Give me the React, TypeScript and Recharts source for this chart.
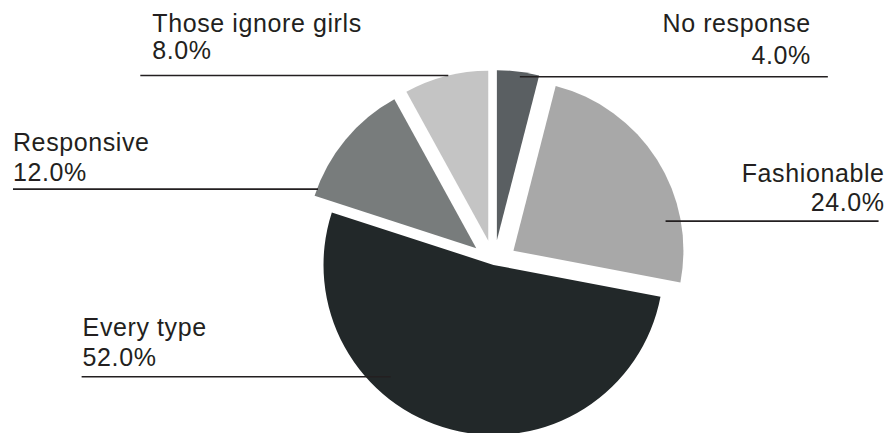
import React from 'react';
import { PieChart, Pie, Cell } from 'recharts';

// slices clockwise from 12 o'clock
const categories = ['No response', 'Fashionable', 'Every type', 'Responsive', 'Those ignore girls'];
const shares = [4, 24, 52, 12, 8];
const colors = ['#5a5f62', '#a8a8a8', '#222829', '#787c7c', '#c4c4c4'];
const explode = [23, 23, 2, 23, 23];

const W = 891;
const H = 433;
const CX = 494;
const CY = 263;
const R = 170;
const FONT = '"Liberation Sans", Arial, Helvetica, sans-serif';

const data = categories.map((name, i) => ({ name, value: shares[i] }));
const total = shares.reduce((a, b) => a + b, 0);

// where each label line leaves its slice (angle clockwise from top, radius from slice tip),
// which way it runs, how long it is, and where the text sits relative to its far end
const labelLayout = [
    { angle: 8, r: 165, side: 1, len: 308, textX: -17, nameDy: -45, valueDy: -13 },
    { angle: 79, r: 155, side: 1, len: 213, textX: 6, nameDy: -39, valueDy: -10 },
    { angle: 222.6, r: 152, side: -1, len: 309, textX: 1, nameDy: -41, valueDy: -11 },
    { angle: 290.5, r: 169, side: -1, len: 305, textX: 0, nameDy: -38, valueDy: -8 },
    { angle: 346.4, r: 170, side: -1, len: 308, textX: 12, nameDy: -43, valueDy: -16 },
];

const centers = (() => {
    let cum = 0;
    return shares.map((v, i) => {
        const mid = ((cum + v / 2) / total) * Math.PI * 2;
        cum += v;
        return { x: CX + explode[i] * Math.sin(mid), y: CY - explode[i] * Math.cos(mid) };
    });
})();

const renderLabel = (props: any, slice: number) => {
    if (props.index !== slice) return null;
    const l = labelLayout[slice];
    const a = (l.angle * Math.PI) / 180;
    const ax = props.cx + l.r * Math.sin(a);
    const ay = props.cy - l.r * Math.cos(a);
    const ex = ax + l.side * l.len;
    const tx = ex + l.textX;
    const anchor = l.side > 0 ? 'end' : 'start';
    return (
        <g>
            <line x1={ax} y1={ay} x2={ex} y2={ay} stroke="#231f20" strokeWidth={1.6} />
            <text x={tx} y={ay + l.nameDy} textAnchor={anchor} fill="#231f20" fontFamily={FONT} fontSize={25} letterSpacing={0.6}>
                {categories[slice]}
            </text>
            <text x={tx} y={ay + l.valueDy} textAnchor={anchor} fill="#231f20" fontFamily={FONT} fontSize={25} letterSpacing={0.6}>
                {((shares[slice] / total) * 100).toFixed(1)}%
            </text>
        </g>
    );
};

const App: React.FC = () => {
    return (
        <div style={{ width: W, height: H, fontFamily: FONT }}>
            <style>{'body{margin:0}'}</style>
            <PieChart width={W} height={H} margin={{ top: 0, right: 0, bottom: 0, left: 0 }}>
                {data.map((_, i) => (
                    <Pie
                        key={i}
                        data={data}
                        dataKey="value"
                        nameKey="name"
                        cx={centers[i].x}
                        cy={centers[i].y}
                        outerRadius={R}
                        startAngle={90}
                        endAngle={-270}
                        stroke="none"
                        isAnimationActive={false}
                        labelLine={false}
                        label={(p: any) => renderLabel(p, i)}
                    >
                        {data.map((d, j) => (
                            <Cell key={d.name} fill={j === i ? colors[j] : 'none'} />
                        ))}
                    </Pie>
                ))}
            </PieChart>
        </div>
    );
};

export default App;
